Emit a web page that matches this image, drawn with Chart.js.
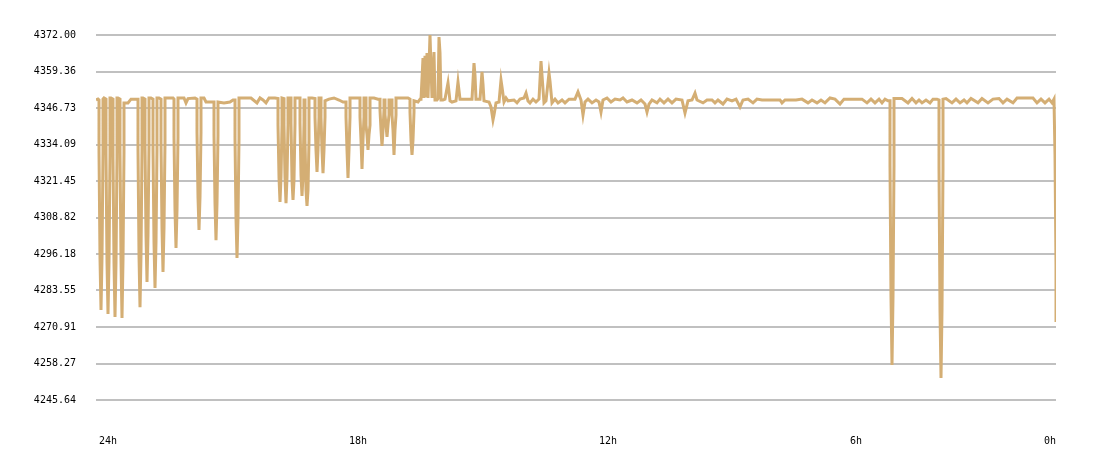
<!DOCTYPE html>
<html>
<head>
<meta charset="utf-8">
<script src="https://cdn.jsdelivr.net/npm/chart.js@4.4.1/dist/chart.umd.min.js"></script>
<style>
  html, body { margin: 0; padding: 0; background: #fff; }
</style>
</head>
<body>
<canvas id="priceChart" width="1100" height="458"></canvas>
<script>
// Samples are ~1.44 min apart (250 samples per 6h), pairs are [sample, price]

// 24h .. ~19h: repeated sharp drops under the 4349 level
const earlyDips = [
    [0, 4349.5], [2, 4349.8],
    [3, 4349.5], [3, 4331.5], [4, 4294.8], [5, 4276.8], [6, 4294.8], [7, 4331.5], [7, 4349.8], [8, 4350.2],
    [10, 4349.8], [10, 4330.5], [11, 4293.4], [12, 4275.4], [13, 4293.4], [14, 4330.5], [14, 4350.2], [15, 4350.2],
    [17, 4349.8], [17, 4329.8], [18, 4293.1], [19, 4274.4], [20, 4293.1], [21, 4329.8], [21, 4350.2], [22, 4350.2],
    [24, 4349.8], [24, 4331.5], [25, 4294.1], [26, 4274.0], [27, 4294.1], [28, 4331.5], [28, 4348.5],
    [32, 4348.5], [35, 4349.8], [41, 4349.8],
    [42, 4349.8], [42, 4332.2], [43, 4295.8], [44, 4277.8], [45, 4295.8], [46, 4332.2], [46, 4350.2], [47, 4350.2],
    [49, 4349.8], [49, 4333.9], [50, 4302.8], [51, 4286.5], [52, 4302.8], [53, 4333.9], [53, 4350.2], [55, 4350.2],
    [57, 4349.8], [57, 4332.2], [58, 4300.3], [59, 4284.4], [60, 4300.3], [61, 4332.2], [61, 4350.2], [63, 4350.2],
    [65, 4349.8], [65, 4334.9], [66, 4305.2], [67, 4290.0], [68, 4305.2], [69, 4334.9], [69, 4350.2], [72, 4350.2], [77, 4350.2],
    [78, 4349.8], [78, 4336.7], [79, 4311.4], [80, 4298.3], [81, 4311.4], [82, 4336.7], [82, 4350.2],
    [88, 4350.2], [90, 4348.5], [92, 4350.0], [99, 4350.2],
    [101, 4349.8], [101, 4338.4], [102, 4315.9], [103, 4304.5], [104, 4315.9], [105, 4338.4], [105, 4350.2],
    [108, 4350.2], [110, 4348.8], [116, 4348.8],
    [118, 4348.8], [118, 4337.4], [119, 4313.8], [120, 4301.0], [121, 4313.8], [122, 4337.4], [122, 4348.8],
    [128, 4348.5], [134, 4348.8], [137, 4349.5],
    [139, 4349.5], [139, 4336.3], [140, 4308.6], [141, 4294.8], [142, 4308.6], [143, 4336.3], [143, 4350.2],
    [155, 4350.2], [161, 4348.5], [164, 4350.2], [167, 4349.5], [170, 4348.5], [173, 4350.2], [179, 4350.2],
    [182, 4350.0], [182, 4340.8], [183, 4322.8], [184, 4314.2], [185, 4322.8], [186, 4340.8], [186, 4350.2],
    [188, 4350.0], [188, 4340.8], [189, 4322.8], [190, 4313.8], [191, 4322.8], [192, 4340.8], [192, 4350.2],
    [195, 4350.2], [195, 4341.5], [196, 4321.8], [197, 4314.9], [198, 4321.8], [199, 4341.5], [199, 4350.2], [201, 4350.2],
    [204, 4350.2], [204, 4341.5], [205, 4323.5], [206, 4316.3], [207, 4323.5], [208, 4341.5], [208, 4349.5],
    [209, 4349.5], [209, 4335.6], [210, 4318.3], [211, 4312.8], [212, 4318.3], [213, 4335.6], [213, 4350.2], [216, 4350.2],
    [219, 4350.0], [219, 4343.6], [220, 4332.2], [221, 4324.6], [222, 4332.2], [223, 4343.6], [223, 4350.2],
    [225, 4350.2], [225, 4343.6], [226, 4332.2], [227, 4324.2], [228, 4332.2], [229, 4343.6], [229, 4349.2],
    [233, 4349.8], [238, 4350.2], [243, 4349.5], [247, 4348.8],
    [250, 4348.8], [250, 4343.6], [251, 4332.2], [252, 4322.5], [253, 4332.2], [254, 4343.6], [254, 4350.2],
    [260, 4350.2],
    [264, 4350.2], [264, 4343.6], [265, 4335.6], [266, 4325.6], [267, 4335.6], [268, 4343.6], [268, 4350.2],
    [270, 4350.2], [270, 4340.8], [271, 4337.4], [272, 4332.2], [273, 4337.4], [274, 4340.8], [274, 4350.2],
    [278, 4350.2], [282, 4349.8],
    [284, 4349.8], [284, 4346.0], [285, 4339.1], [286, 4333.6], [287, 4339.1], [288, 4346.0], [288, 4349.5],
    [289, 4349.5], [289, 4344.3], [290, 4340.8], [291, 4336.7], [292, 4340.8], [293, 4344.3], [293, 4349.5],
    [296, 4349.5], [296, 4344.3], [297, 4339.1], [298, 4330.5], [299, 4339.1], [300, 4344.3], [300, 4350.2],
    [308, 4350.2], [312, 4350.2],
    [314, 4349.8], [314, 4345.3], [315, 4335.6], [316, 4330.5], [317, 4335.6], [318, 4345.3], [318, 4349.2],
    [322, 4348.8], [324, 4349.8]
];

// ~17h .. ~14h: spikes above the level
const peakRun = [
    [325, 4349.8], [327, 4364.0], [328, 4350.2], [329, 4364.8], [330, 4350.5], [331, 4365.8], [332, 4350.2],
    [334, 4372.0], [336, 4350.2], [338, 4366.1], [339, 4349.5], [341, 4349.5], [342, 4350.0], [343, 4371.3],
    [344, 4365.8], [345, 4349.5], [347, 4349.5], [349, 4349.8], [352, 4355.4], [354, 4349.2], [356, 4348.8],
    [360, 4349.2], [362, 4355.7], [364, 4349.8], [376, 4349.8], [378, 4362.3], [379, 4358.0], [380, 4349.8],
    [384, 4349.8], [386, 4359.2], [387, 4355.0], [388, 4349.2], [393, 4348.8], [395, 4347.1], [397, 4342.6],
    [398, 4344.3], [400, 4348.5], [403, 4348.8], [405, 4356.4], [406, 4354.0], [408, 4348.8], [410, 4350.2],
    [412, 4349.2], [418, 4349.5], [421, 4348.5], [424, 4349.8], [428, 4350.2], [430, 4351.9], [432, 4349.2],
    [434, 4348.5], [437, 4349.8], [440, 4348.8], [443, 4349.8], [445, 4363.0], [446, 4358.0], [448, 4348.5],
    [450, 4349.2], [453, 4358.8], [454, 4356.0], [456, 4348.5], [459, 4349.8]
];

// ~14h .. ~7h: quiet, small wiggles
const quietRun = [
    [462, 4348.5], [466, 4349.5], [469, 4348.5], [473, 4349.8], [479, 4349.8], [482, 4352.3], [485, 4349.5],
    [487, 4344.3], [489, 4348.8], [492, 4349.8], [496, 4348.5], [500, 4349.5], [503, 4348.8], [505, 4345.3],
    [507, 4349.5], [511, 4350.2], [515, 4348.8], [519, 4349.8], [524, 4349.5], [527, 4350.2], [531, 4348.8],
    [536, 4349.5], [541, 4348.5], [545, 4349.5], [549, 4348.1], [551, 4345.3], [553, 4348.1], [556, 4349.5],
    [561, 4348.5], [564, 4349.8], [568, 4348.5], [572, 4349.8], [576, 4348.5], [580, 4349.8], [586, 4349.5],
    [589, 4345.0], [592, 4349.2], [596, 4349.5], [599, 4351.9], [601, 4349.5], [607, 4348.5], [611, 4349.5],
    [616, 4349.5], [619, 4348.5], [622, 4349.5], [627, 4348.1], [631, 4349.8], [636, 4349.2], [640, 4349.8],
    [644, 4347.1], [647, 4349.5], [652, 4349.8], [657, 4348.5], [661, 4349.8], [666, 4349.5], [684, 4349.5],
    [686, 4348.5], [689, 4349.5], [700, 4349.5], [706, 4349.8], [712, 4348.5], [716, 4349.5], [721, 4348.5],
    [725, 4349.5], [729, 4348.5], [734, 4350.2], [739, 4349.8], [744, 4348.1], [748, 4349.8], [760, 4349.8],
    [766, 4349.8], [771, 4348.5], [775, 4349.8], [779, 4348.5], [783, 4349.8], [786, 4348.5], [789, 4349.8],
    [792, 4349.2]
];

// last hours: two deep drops and the final fall
const lateDips = [
    [794, 4349.2], [794, 4327.0], [795, 4281.3], [796, 4257.8], [797, 4281.3], [798, 4327.0], [798, 4350.0],
    [800, 4350.0], [806, 4350.0], [812, 4348.5], [816, 4350.0], [820, 4348.5], [823, 4349.5], [826, 4348.5],
    [830, 4349.5], [834, 4348.5], [837, 4349.8], [841, 4349.8],
    [843, 4349.5], [843, 4326.0], [844, 4276.8], [845, 4253.3], [846, 4276.8], [847, 4326.0], [847, 4349.8],
    [850, 4350.0], [856, 4348.5], [860, 4349.8], [864, 4348.5], [868, 4349.5], [871, 4348.5], [875, 4350.0],
    [882, 4348.5], [886, 4350.0], [892, 4348.5], [897, 4349.8], [903, 4350.0], [907, 4348.5], [911, 4349.8],
    [917, 4348.5], [921, 4350.2], [937, 4350.2], [941, 4348.5], [945, 4349.8], [949, 4348.5], [953, 4349.8],
    [956, 4348.5], [958, 4349.8], [959, 4330.5], [960, 4292.0], [960, 4272.6]
];

// axis ticks
const yTicks = [4245.64, 4258.27, 4270.91, 4283.55, 4296.18, 4308.82, 4321.45, 4334.09, 4346.73, 4359.36, 4372.00];
const xTickSamples = [12, 262, 512, 760, 954];
const xTickLabels = ['24h', '18h', '12h', '6h', '0h'];

const points = earlyDips.concat(peakRun, quietRun, lateDips).map(p => ({ x: p[0], y: p[1] }));

Chart.defaults.font.family = '"DejaVu Sans Mono", monospace';
Chart.defaults.font.size = 10;
Chart.defaults.color = '#000';

const ctx = document.getElementById('priceChart').getContext('2d');
const priceChart = new Chart(ctx, {
    type: 'line',
    data: {
        datasets: [{
            data: points,
            borderColor: '#d4ae74',
            borderWidth: 3,
            pointRadius: 0,
            tension: 0,
            fill: false
        }]
    },
    options: {
        responsive: false,
        animation: false,
        events: [],
        layout: { padding: { top: 35, right: 44, left: 0, bottom: 0 } },
        plugins: {
            legend: { display: false },
            tooltip: { enabled: false }
        },
        scales: {
            x: {
                type: 'linear',
                min: 0,
                max: 960,
                grid: { display: false },
                border: { display: false },
                afterBuildTicks: scale => { scale.ticks = xTickSamples.map(v => ({ value: v })); },
                afterFit: scale => { scale.height = 58; },
                ticks: {
                    padding: 27,
                    maxRotation: 0,
                    autoSkip: false,
                    callback: (v, i) => xTickLabels[i]
                }
            },
            y: {
                min: yTicks[0],
                max: yTicks[yTicks.length - 1],
                afterBuildTicks: scale => { scale.ticks = yTicks.map(v => ({ value: v })); },
                afterFit: scale => { scale.width = 96; },
                grid: { color: '#c0c0c0', lineWidth: 2, drawTicks: false },
                border: { display: false },
                ticks: {
                    padding: 20,
                    callback: v => Number(v).toFixed(2)
                }
            }
        }
    }
});
</script>
</body>
</html>
